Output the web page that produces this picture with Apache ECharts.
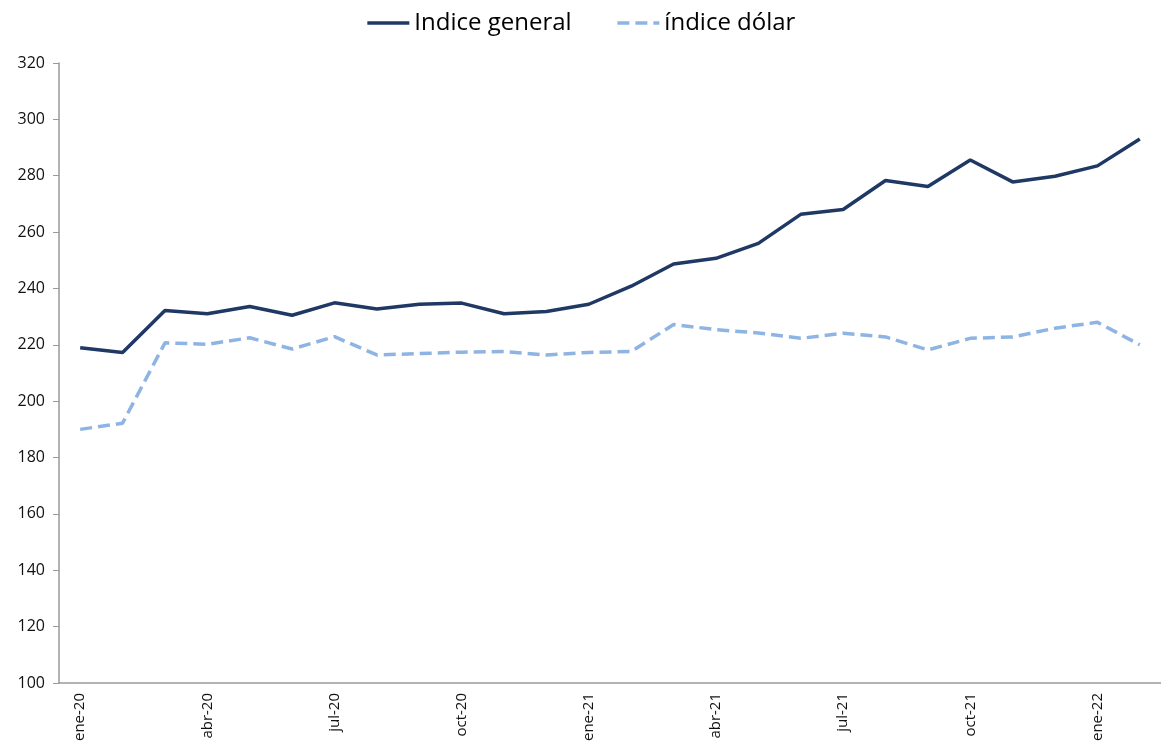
<!DOCTYPE html>
<html>
<head>
<meta charset="utf-8">
<script src="https://cdn.jsdelivr.net/npm/echarts@6/dist/echarts.min.js"></script>
<style>
  html, body { margin: 0; padding: 0; background: #fff; }
  #main { width: 1161px; height: 749px; }
</style>
</head>
<body>
<div id="main"></div>
<script>
// meses ene-20 .. feb-22
var meses = [
  'ene-20', 'feb-20', 'mar-20', 'abr-20', 'may-20', 'jun-20',
  'jul-20', 'ago-20', 'sep-20', 'oct-20', 'nov-20', 'dic-20',
  'ene-21', 'feb-21', 'mar-21', 'abr-21', 'may-21', 'jun-21',
  'jul-21', 'ago-21', 'sep-21', 'oct-21', 'nov-21', 'dic-21',
  'ene-22', 'feb-22'
]

var indiceGeneral = [
  219, 217.3, 232.2, 231, 233.6, 230.5,
  234.9, 232.7, 234.4, 234.8, 231, 231.8,
  234.4, 240.8, 248.7, 250.7, 256, 266.3,
  268, 278.3, 276.2, 285.6, 277.8, 279.8,
  283.5, 293
]

var indiceDolar = [
  190, 192.2, 220.7, 220.2, 222.5, 218.5,
  222.9, 216.4, 216.9, 217.4, 217.6, 216.4,
  217.3, 217.6, 227.2, 225.4, 224.2, 222.3,
  224.1, 222.8, 218.2, 222.3, 222.8, 225.9,
  228, 220
]

var chart = echarts.init(document.getElementById('main'))

var option = {
  animation: false,
  textStyle: { fontFamily: 'Open Sans' },
  legend: {
    top: 6,
    left: 'center',
    itemWidth: 42,
    itemHeight: 14,
    itemGap: 44,
    itemStyle: { opacity: 0 },
    lineStyle: { width: 3.5 },
    textStyle: { fontSize: 24, color: '#000', fontFamily: 'Open Sans' },
    data: ['Indice general', 'índice dólar']
  },
  grid: {
    left: 59,
    right: 0,
    top: 63,
    bottom: 66
  },
  xAxis: {
    type: 'category',
    data: meses,
    boundaryGap: true,
    axisLine: { lineStyle: { color: '#999', width: 1.5 } },
    axisTick: { interval: 0, length: 6, lineStyle: { color: '#999' } },
    axisLabel: {
      interval: 2,
      rotate: 90,
      fontSize: 15,
      color: '#111',
      margin: 10
    }
  },
  yAxis: {
    type: 'value',
    min: 100,
    max: 320,
    interval: 20,
    splitLine: { show: false },
    axisLine: { show: true, lineStyle: { color: '#999', width: 1.5 } },
    axisTick: { show: true, inside: false, length: 6, lineStyle: { color: '#999' } },
    axisLabel: { fontSize: 16, color: '#111', margin: 14 }
  },
  series: [
    {
      name: 'Indice general',
      type: 'line',
      data: indiceGeneral,
      symbol: 'none',
      lineStyle: { color: '#1F3864', width: 3.5 },
      itemStyle: { color: '#1F3864' }
    },
    {
      name: 'índice dólar',
      type: 'line',
      data: indiceDolar,
      symbol: 'none',
      lineStyle: { color: '#8EB4E3', width: 3.5, type: [12, 6] },
      itemStyle: { color: '#8EB4E3' }
    }
  ]
}
chart.setOption(option)
</script>
</body>
</html>
